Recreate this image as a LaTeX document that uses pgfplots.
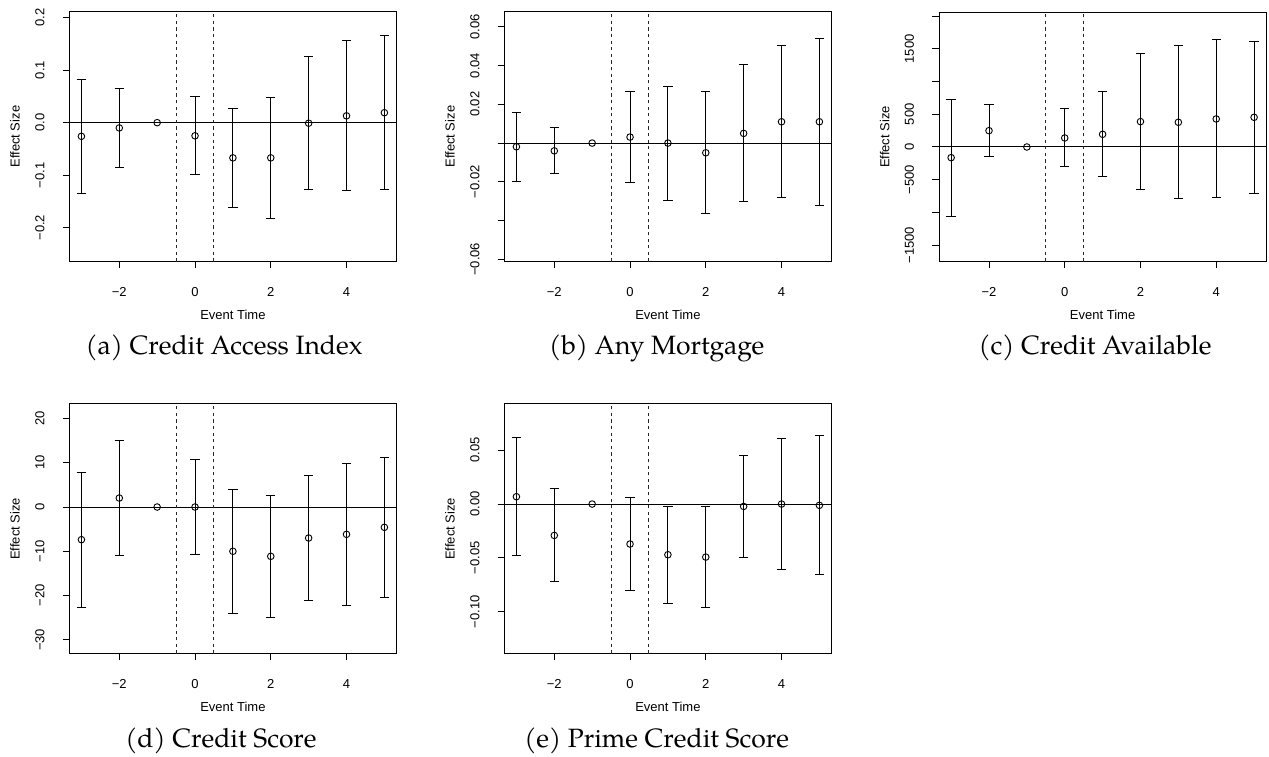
\documentclass[border=0pt]{standalone}
\usepackage{fontspec}
\setmainfont{TeX Gyre Pagella}
\setsansfont{Liberation Sans}
\usepackage{pgfplots}
\usepackage{pgfplotstable}
\pgfplotsset{compat=1.18}

\pgfplotstableread{
x y lo hi
-3 -0.026 -0.135 0.083
-2 -0.010 -0.086 0.066
0 -0.025 -0.099 0.050
1 -0.067 -0.161 0.027
2 -0.067 -0.182 0.048
3 -0.001 -0.128 0.126
4 0.013 -0.129 0.157
5 0.019 -0.128 0.166
}\tabA
\pgfplotstableread{
x y lo hi
-3 -0.0019 -0.0196 0.0157
-2 -0.0040 -0.0156 0.0079
0 0.0031 -0.0205 0.0267
1 0.0000 -0.0294 0.0294
2 -0.0050 -0.0363 0.0265
3 0.0050 -0.0301 0.0404
4 0.0110 -0.0280 0.0502
5 0.0110 -0.0322 0.0540
}\tabB
\pgfplotstableread{
x y lo hi
-3 -163 -1056 730
-2 250 -143 648
0 138 -301 582
1 194 -444 842
2 388 -648 1434
3 378 -786 1546
4 429 -776 1643
5 454 -704 1617
}\tabC
\pgfplotstableread{
x y lo hi
-3 -7.38 -22.67 7.83
-2 2.03 -10.84 14.98
0 0.0 -10.69 10.77
1 -10.0 -24.02 3.99
2 -11.14 -24.92 2.71
3 -7.0 -21.08 7.08
4 -6.17 -22.14 9.79
5 -4.59 -20.41 11.22
}\tabD
\pgfplotstableread{
x y lo hi
-3 0.0068 -0.0479 0.0615
-2 -0.0291 -0.0720 0.0142
0 -0.0371 -0.0801 0.0059
1 -0.0470 -0.0921 -0.0022
2 -0.0492 -0.0962 -0.0022
3 -0.0022 -0.0492 0.0448
4 0.0000 -0.0609 0.0606
5 -0.0012 -0.0656 0.0634
}\tabE

\pgfplotsset{
  evt/.style={
    scale only axis, width=327.2pt, height=250pt,
    xmin=-3.32, xmax=5.32,
    xtick={-2,0,2,4}, xticklabels={−2,0,2,4},
    scaled y ticks=false, scaled x ticks=false,
    xtick pos=bottom, ytick pos=left,
    tick align=outside, major tick length=6.7pt,
    tick style={black, line width=1pt},
    axis line style={black, line width=1pt},
    font=\sffamily\fontsize{13}{15}\selectfont,
    xticklabel style={anchor=north, inner sep=0pt, yshift=-18.5pt},
    yticklabel style={xshift=-18pt, rotate=90, anchor=south, inner sep=0pt},
    xlabel={Event Time}, ylabel={Effect Size},
    every axis x label/.style={at={(axis description cs:0.5,-0.213)}, anchor=center},
    every axis y label/.style={at={(axis description cs:-0.166,0.5)}, rotate=90, anchor=center},
    clip=false,
  },
  pts/.style={black, only marks, mark=o, mark size=3.3pt, mark options={line width=0.9pt, solid},
    error bars/.cd, y dir=both, y explicit,
    error bar style={line width=1pt, black},
    error mark options={rotate=90, mark size=4.7pt, line width=1pt, black}},
  zl/.style={black, line width=1pt, no marks},
  vl/.style={black!85, line width=1pt, no marks, dash pattern=on 3.3pt off 3.3pt},
}

\newcommand{\panel}[3]{%
  \addplot[pts] table[x=x, y=y, y error plus expr=\thisrow{hi}-\thisrow{y}, y error minus expr=\thisrow{y}-\thisrow{lo}] {#1};
  \addplot[black, only marks, mark=o, mark size=3.3pt, mark options={line width=0.9pt}] coordinates {(-1,0)};
  \addplot[zl] coordinates {(-3.32,0) (5.32,0)};
  \addplot[vl] coordinates {(-0.5,#2) (-0.5,#3)};
  \addplot[vl] coordinates {(0.5,#2) (0.5,#3)};
}

\begin{document}
\begin{tikzpicture}
\useasboundingbox (0,0) rectangle (1269pt,757pt);

\begin{axis}[evt, at={(69.3pt,495.3pt)}, anchor=south west,
  ymin=-0.2648, ymax=0.2114,
  ytick={-0.2,-0.1,0,0.1,0.2}, yticklabels={−0.2,−0.1,0.0,0.1,0.2}]
\panel{\tabA}{-0.2648}{0.2114}
\end{axis}

\begin{axis}[evt, at={(504.3pt,495.3pt)}, anchor=south west,
  ymin=-0.0612, ymax=0.0678,
  ytick={-0.06,-0.04,-0.02,0,0.02,0.04,0.06}, yticklabels={−0.06,,−0.02,,0.02,0.04,0.06}]
\panel{\tabB}{-0.0612}{0.0678}
\end{axis}

\begin{axis}[evt, at={(939pt,495.3pt)}, anchor=south west, height=249.4pt,
  ymin=-1755, ymax=2061,
  ytick={-1500,-1000,-500,0,500,1000,1500,2000}, yticklabels={−1500,,−500,0,500,,1500,}]
\panel{\tabC}{-1755}{2061}
\end{axis}

\begin{axis}[evt, at={(69.3pt,103.3pt)}, anchor=south west, height=249.7pt,
  ymin=-33.13, ymax=23.27,
  ytick={-30,-20,-10,0,10,20}, yticklabels={−30,−20,−10,0,10,20}]
\panel{\tabD}{-33.13}{23.27}
\end{axis}

\begin{axis}[evt, at={(504.3pt,103.3pt)}, anchor=south west, height=249.7pt,
  ymin=-0.1388, ymax=0.0928,
  ytick={-0.10,-0.05,0,0.05}, yticklabels={−0.10,−0.05,0.00,0.05}]
\panel{\tabE}{-0.1388}{0.0928}
\end{axis}

\begin{scope}[font=\fontsize{26.5}{30}\selectfont]
\node[anchor=base] at (224pt,402pt) {(a) Credit Access Index};
\node[anchor=base] at (656.7pt,402pt) {(b) Any Mortgage};
\node[anchor=base] at (1095pt,402pt) {(c) Credit Available};
\node[anchor=base] at (221pt,9pt) {(d) Credit Score};
\node[anchor=base] at (656.7pt,9pt) {(e) Prime Credit Score};
\end{scope}
\end{tikzpicture}
\end{document}
